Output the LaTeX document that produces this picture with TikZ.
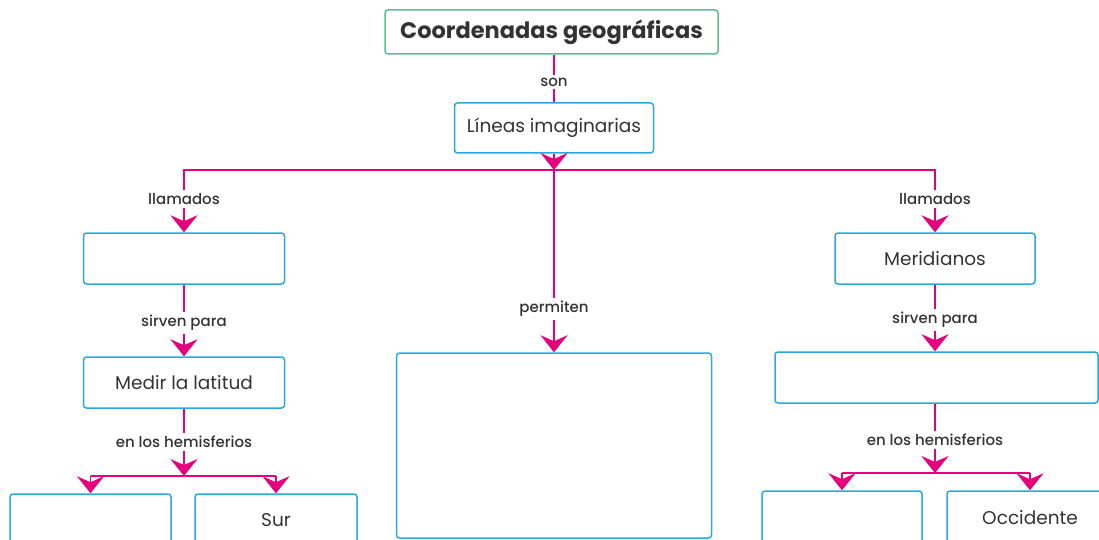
\documentclass[tikz,border=0pt]{standalone}
\usepackage{fontspec}
\setmainfont{Poppins}
\newfontfamily\linkfont{Poppins Medium}
\usetikzlibrary{arrows.meta}

\definecolor{mapink}{HTML}{E5007D}
\definecolor{mapblue}{HTML}{2AA9E0}
\definecolor{mapgreen}{HTML}{5CBF91}
\definecolor{maptext}{HTML}{333333}

\begin{document}
\begin{tikzpicture}[x=1pt, y=-1pt,
    box/.style={draw=mapblue, line width=1.5pt, rounded corners=3pt,
      text=maptext, inner sep=0pt, font=\fontsize{18.5}{22}\selectfont},
    link/.style={text=maptext, inner sep=3pt, font=\linkfont\fontsize{15}{18}\selectfont},
    conn/.style={draw=mapink, line width=1.8pt},
    arr/.style={conn, -{Stealth[length=17pt, width=27pt, inset=6pt]}}]
    % Frame of the page
    \path[use as bounding box, clip] (0,0) rectangle (1099,540);

    % Top of the map
    \node[box, draw=mapgreen, minimum width=333pt, minimum height=44pt,
      font=\bfseries\fontsize{22.5}{26}\selectfont] (coord) at (551.5,32) {Coordenadas geográficas};
    \node[link] (son) at (554,82) {son};
    \node[box, minimum width=199pt, minimum height=50pt] (lineas) at (554,128) {Líneas imaginarias};
    \coordinate (bl) at (184,170);
    \coordinate (br) at (935,170);

    % Left branch
    \node[link] (llamL) at (184,199) {llamados};
    \node[box, minimum width=201pt, minimum height=51pt] (paral) at (184,258.5) {};
    \node[link] (sirvL) at (184,323) {sirven para};
    \node[box, minimum width=201pt, minimum height=51pt] (latit) at (184,382.5) {Medir la latitud};
    \node[link] (hemL) at (184,442) {en los hemisferios};
    \coordinate (jL) at (184,476);
    \node[box, minimum width=161pt, minimum height=52pt] (norte) at (90.5,520) {};
    \node[box, minimum width=162pt, minimum height=52pt] (sur) at (276,520) {Sur};

    % Middle branch
    \node[link] (permite) at (554,309) {permiten};
    \node[box, minimum width=315pt, minimum height=185pt] (usos) at (554,445.5) {};

    % Right branch
    \node[link] (llamR) at (935,199) {llamados};
    \node[box, minimum width=200pt, minimum height=51pt] (merid) at (935,258.5) {Meridianos};
    \node[link] (sirvR) at (935,320) {sirven para};
    \node[box, minimum width=323pt, minimum height=51pt] (longi) at (936.5,377.5) {};
    \node[link] (hemR) at (935,440) {en los hemisferios};
    \coordinate (jR) at (935,473);
    \node[box, minimum width=160pt, minimum height=54pt] (orien) at (842,518) {};
    \node[box, minimum width=166pt, minimum height=54pt] (occid) at (1030,518) {Occidente};

    % Connectors
    \draw[conn] (coord.south -| son) -- (son);
    \draw[conn] (son) -- (lineas);
    \draw[arr] (lineas) -- (lineas |- bl);
    \draw[conn] (llamL) -- (bl) -- (br) -- (llamR);

    \draw[arr] (llamL) -- (paral);
    \draw[conn] (paral) -- (sirvL);
    \draw[arr] (sirvL) -- (latit);
    \draw[conn] (latit) -- (hemL);
    \draw[arr] (hemL) -- (jL);
    \draw[conn] (norte |- jL) -- (sur |- jL);
    \draw[arr] (norte |- jL) -- (norte);
    \draw[arr] (sur |- jL) -- (sur);

    \draw[conn] (lineas |- bl) -- (permite);
    \draw[arr] (permite) -- (usos);

    \draw[arr] (llamR) -- (merid);
    \draw[conn] (merid) -- (sirvR);
    \draw[arr] (sirvR) -- (longi.north -| sirvR);
    \draw[conn] (longi.south -| hemR) -- (hemR);
    \draw[arr] (hemR) -- (jR);
    \draw[conn] (orien |- jR) -- (occid |- jR);
    \draw[arr] (orien |- jR) -- (orien);
    \draw[arr] (occid |- jR) -- (occid);
\end{tikzpicture}
\end{document}
